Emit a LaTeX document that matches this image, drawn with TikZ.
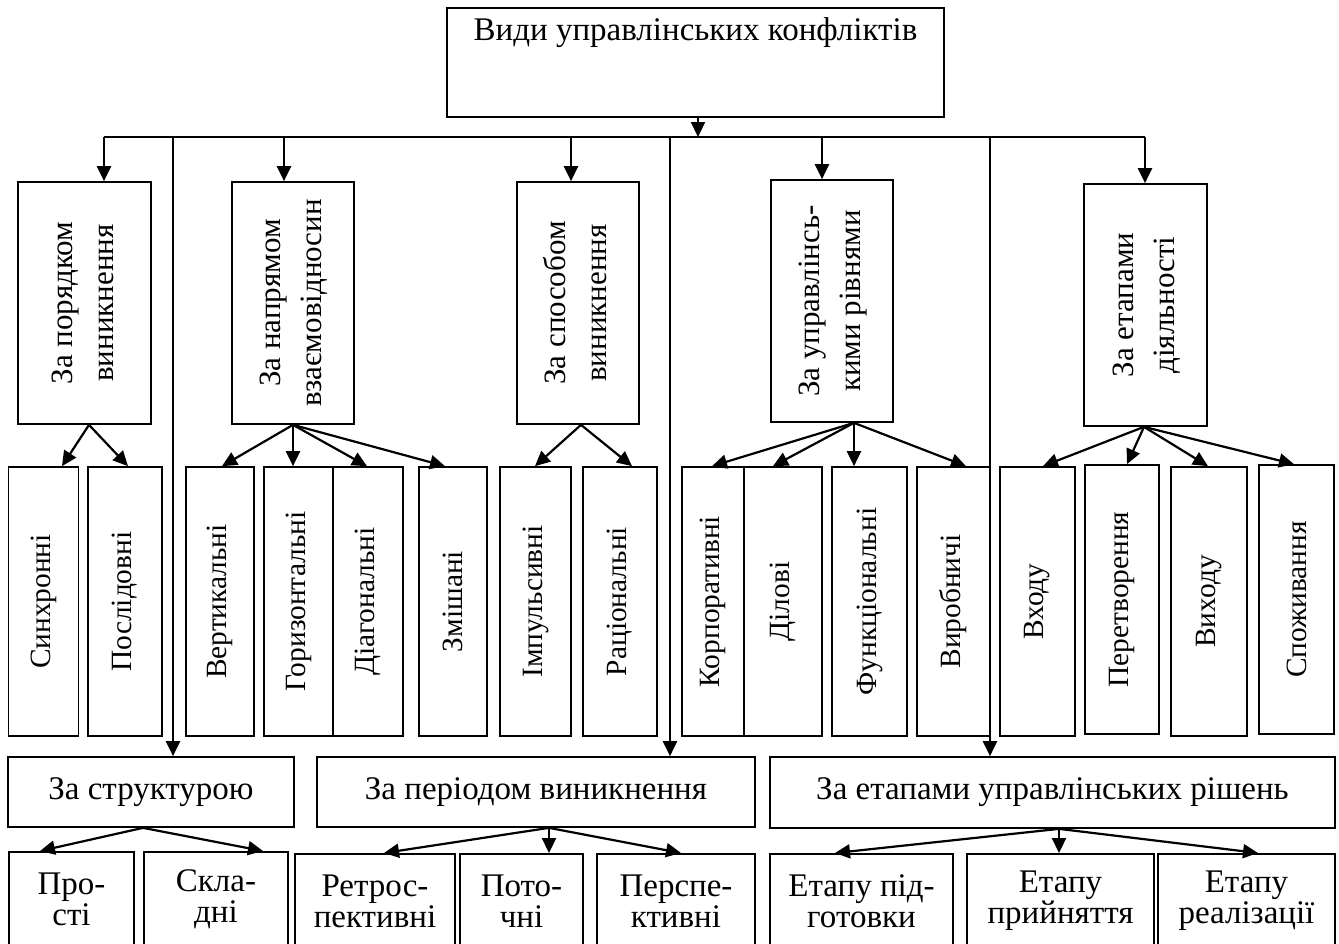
\documentclass[tikz,border=0pt]{standalone}
\usepackage{fontspec}
\usepackage{graphicx}
\setmainfont{Liberation Serif}
\usetikzlibrary{arrows.meta}

\newcommand{\vtwo}[2]{\rotatebox{90}{\begin{tabular}{@{}c@{}}#1\\#2\end{tabular}}}

\begin{document}
\begin{tikzpicture}[x=0.5pt, y=-0.5pt,
    font=\fontsize{16.5}{20.5}\selectfont,
    box/.style={draw, line width=0.85pt, inner sep=0pt},
    kind/.style={box, minimum height=121pt, font=\fontsize{15.5}{20.5}\selectfont},
    leaf/.style={box, minimum height=134.5pt, font=\fontsize{14.7}{18}\selectfont},
    hbox/.style={box, font=\fontsize{16.5}{15.5}\selectfont, align=center},
    arr/.style={-{Triangle[length=7.5pt,width=7pt]}, line width=1.1pt}]
    \useasboundingbox (0,0) rectangle (1339,943);

    % Top box
    \node[box, anchor=north, minimum width=248.5pt,
          text height=16.5pt, text depth=38pt] (root) at (695.5,7) {Види управлінських конфліктів};
    \coordinate (bus) at (698,137);

    % First level (vertical boxes)
    \node[kind, minimum width=66.5pt] (A) at (84.5,303) {\vtwo{За порядком}{виникнення}};
    \node[kind, minimum width=61pt] (B) at (293,303) {\vtwo{За напрямом}{взаємовідносин}};
    \node[kind, minimum width=61pt] (C) at (578,303) {\vtwo{За способом}{виникнення}};
    \node[kind, minimum width=61pt] (D) at (832,301) {\vtwo{За управлінсь-}{кими рівнями}};
    \node[kind, minimum width=61.5pt] (E) at (1145.5,305) {\vtwo{За етапами}{діяльності}};

    % First level (wide boxes)
    \node[hbox, minimum width=143pt, minimum height=35pt] (F) at (151,792) {За структурою};
    \node[hbox, minimum width=219pt, minimum height=35pt] (G) at (536,792) {За періодом виникнення};
    \node[hbox, minimum width=282.5pt, minimum height=35.5pt] (H) at (1052.5,792.5) {За етапами управлінських рішень};

    % Second level
    \node[leaf, minimum width=35pt] (s1) at (43.5,601.5) {\rotatebox{90}{Синхронні}};
    \node[leaf, minimum width=37pt] (s2) at (125,601.5) {\rotatebox{90}{Послідовні}};
    \node[leaf, minimum width=34pt] (s3) at (220,601.5) {\rotatebox{90}{Вертикальні}};
    \node[leaf, minimum width=34.5pt] (s4) at (298.5,601.5) {\rotatebox{90}{Горизонтальні}};
    \node[leaf, minimum width=35pt] (s5) at (368,601.5) {\rotatebox{90}{Діагональні}};
    \node[leaf, minimum width=34pt] (s6) at (453,601.5) {\rotatebox{90}{Змішані}};
    \node[leaf, minimum width=35.5pt] (s7) at (535.5,601.5) {\rotatebox{90}{Імпульсивні}};
    \node[leaf, minimum width=37pt] (s8) at (620,601.5) {\rotatebox{90}{Раціональні}};
    \node[leaf, minimum width=31pt] (s9) at (713,601.5) {\rotatebox{90}{Корпоративні}};
    \node[leaf, minimum width=39pt] (s10) at (783,601.5) {\rotatebox{90}{Ділові}};
    \node[leaf, minimum width=37.5pt] (s11) at (869.5,601.5) {\rotatebox{90}{Функціональні}};
    \node[leaf, minimum width=36.5pt] (s12) at (953.5,601.5) {\rotatebox{90}{Виробничі}};
    \node[leaf, minimum width=37.5pt] (s13) at (1037.5,601.5) {\rotatebox{90}{Входу}};
    \node[leaf, minimum width=37pt] (s14) at (1122,599.5) {\rotatebox{90}{Перетворення}};
    \node[leaf, minimum width=38pt] (s15) at (1209,601.5) {\rotatebox{90}{Виходу}};
    \node[leaf, minimum width=37.5pt] (s16) at (1296.5,599.5) {\rotatebox{90}{Споживання}};

    % Second level under the wide boxes (cut by the page edge)
    \node[hbox, anchor=north, minimum width=62.5pt, minimum height=47pt] (p1) at (71.5,851) {Про-\\сті};
    \node[hbox, anchor=north, minimum width=72pt, minimum height=47pt] (p2) at (216,851) {Скла-\\дні};
    \node[hbox, anchor=north, minimum width=80pt, minimum height=47pt] (q1) at (375,853) {Ретрос-\\пективні};
    \node[hbox, anchor=north, minimum width=61.5pt, minimum height=47pt] (q2) at (521.5,853) {Пото-\\чні};
    \node[hbox, anchor=north, minimum width=79pt, minimum height=47pt] (q3) at (676,853) {Перспе-\\ктивні};
    \node[hbox, anchor=north, minimum width=91.5pt, minimum height=47pt] (r1) at (861.5,853) {Етапу під-\\готовки};
    \node[hbox, anchor=north, minimum width=93.5pt, minimum height=47pt] (r2) at (1060.5,853) {Етапу\\прийняття};
    \node[hbox, anchor=north, minimum width=88.5pt, minimum height=47pt] (r3) at (1246.5,853) {Етапу\\реалізації};

    % Bus from the top box
    \draw[arr] (698,0 |- root.south) -- (bus);
    \draw[line width=1.1pt] (104,0 |- bus) -- (1145,0 |- bus);
    \draw[arr] (104,0 |- bus) -- (104,0 |- A.north);
    \draw[arr] (284,0 |- bus) -- (284,0 |- B.north);
    \draw[arr] (571,0 |- bus) -- (571,0 |- C.north);
    \draw[arr] (822,0 |- bus) -- (822,0 |- D.north);
    \draw[arr] (1145,0 |- bus) -- (1145,0 |- E.north);

    % Long lines down to the wide boxes
    \draw[arr] (173,0 |- bus) -- (173,0 |- F.north);
    \draw[arr] (670,0 |- bus) -- (670,0 |- G.north);
    \draw[arr] (990,0 |- bus) -- (990,0 |- H.north);

    % Fans
    \coordinate (fA) at (89,0 |- A.south);
    \coordinate (fB) at (293,0 |- B.south);
    \coordinate (fC) at (581,0 |- C.south);
    \coordinate (fD) at (854,0 |- D.south);
    \coordinate (fE) at (1144,0 |- E.south);
    \coordinate (fF) at (143,0 |- F.south);
    \coordinate (fG) at (549,0 |- G.south);
    \coordinate (fH) at (1059,0 |- H.south);

    \draw[arr] (fA) -- (62,0 |- s1.north);
    \draw[arr] (fA) -- (128,0 |- s2.north);
    \draw[arr] (fB) -- (222,0 |- s3.north);
    \draw[arr] (fB) -- (293,0 |- s4.north);
    \draw[arr] (fB) -- (367,0 |- s5.north);
    \draw[arr] (fB) -- (445,0 |- s6.north);
    \draw[arr] (fC) -- (535,0 |- s7.north);
    \draw[arr] (fC) -- (632,0 |- s8.north);
    \draw[arr] (fD) -- (712,0 |- s9.north);
    \draw[arr] (fD) -- (773,0 |- s10.north);
    \draw[arr] (fD) -- (854,0 |- s11.north);
    \draw[arr] (fD) -- (966,0 |- s12.north);
    \draw[arr] (fE) -- (1043,0 |- s13.north);
    \draw[arr] (fE) -- (1127,0 |- s14.north);
    \draw[arr] (fE) -- (1208,0 |- s15.north);
    \draw[arr] (fE) -- (1294,0 |- s16.north);
    \draw[arr] (fF) -- (40,0 |- p1.north);
    \draw[arr] (fF) -- (263,0 |- p2.north);
    \draw[arr] (fG) -- (384,0 |- q1.north);
    \draw[arr] (fG) -- (549,0 |- q2.north);
    \draw[arr] (fG) -- (681,0 |- q3.north);
    \draw[arr] (fH) -- (835,0 |- r1.north);
    \draw[arr] (fH) -- (1059,0 |- r2.north);
    \draw[arr] (fH) -- (1258,0 |- r3.north);
\end{tikzpicture}
\end{document}
